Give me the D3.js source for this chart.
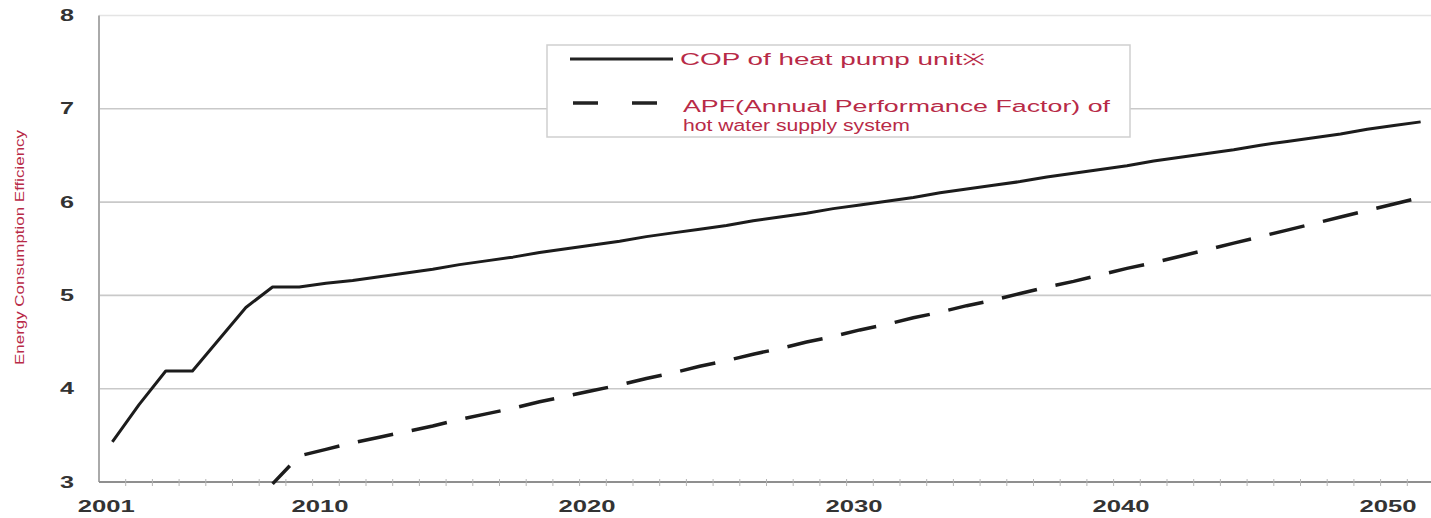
<!DOCTYPE html>
<html><head><meta charset="utf-8">
<script src="https://cdn.jsdelivr.net/npm/d3@7"></script>
<style>body{margin:0;background:#fff;} svg{display:block;}</style>
</head><body><svg id="c" width="1431" height="518"></svg>
<script>
// Category axis labels (Excel-style category column, blanks unlabeled)
const xLabels = ["2001","","","","","","","","2010","",
                 "","","","","","","","","2020","",
                 "","","","","","","","","2030","",
                 "","","","","","","","","2040","",
                 "","","","","","","","","2050",""];
// COP of heat pump unit
const copValues = [3.43,3.83,4.19,4.19,4.53,4.87,5.09,5.09,5.13,5.16,
                   5.20,5.24,5.28,5.33,5.37,5.41,5.46,5.50,5.54,5.58,
                   5.63,5.67,5.71,5.75,5.80,5.84,5.88,5.93,5.97,6.01,
                   6.05,6.10,6.14,6.18,6.22,6.27,6.31,6.35,6.39,6.44,
                   6.48,6.52,6.56,6.61,6.65,6.69,6.73,6.78,6.82,6.86];
// APF of hot water supply system
const apfValues = [null,null,null,null,null,null,2.98,3.28,3.35,3.42,
                   3.48,3.54,3.60,3.67,3.73,3.79,3.86,3.92,3.98,4.04,
                   4.11,4.17,4.24,4.30,4.37,4.43,4.50,4.56,4.63,4.69,
                   4.76,4.82,4.89,4.95,5.02,5.09,5.15,5.22,5.29,5.35,
                   5.42,5.49,5.56,5.63,5.70,5.77,5.84,5.91,5.98,6.05];
const yTicks = [3,4,5,6,7,8];
const yTitle = "Energy Consumption Efficiency";
const copLabel = "COP of heat pump unit※";
const apfLabelLines = ["APF(Annual Performance Factor) of", "hot water supply system"];

const svg = d3.select("#c");
const red = "#b82a47";
const n = xLabels.length;
const x = d3.scaleBand().domain(d3.range(n)).range([99, 1434]).paddingInner(0).paddingOuter(0);
const cx = i => x(i) + x.bandwidth() / 2;
const y = d3.scaleLinear().domain([3, 8]).range([482, 15.5]);

// gridlines
svg.append("g").selectAll("line").data(yTicks.filter(t => t > 3)).join("line")
  .attr("x1", 99).attr("x2", 1431)
  .attr("y1", d => y(d)).attr("y2", d => y(d))
  .attr("stroke", d => d === 8 ? "#e4e4e4" : "#c9c9c9").attr("stroke-width", 1.6);

// left axis line
svg.append("line").attr("x1", 99).attr("x2", 99).attr("y1", y(8)).attr("y2", y(3))
  .attr("stroke", "#aaa").attr("stroke-width", 2);
// bottom axis line
svg.append("line").attr("x1", 99).attr("x2", 1431).attr("y1", y(3)).attr("y2", y(3))
  .attr("stroke", "#8f8f8f").attr("stroke-width", 2);
// category boundary tick marks
svg.append("g").selectAll("line").data(d3.range(1, n)).join("line")
  .attr("x1", d => x(d)).attr("x2", d => x(d))
  .attr("y1", y(3) - 3).attr("y2", y(3) + 4)
  .attr("stroke", "#b5b5b5").attr("stroke-width", 1);

// y axis labels
const yAxis = svg.append("g").attr("transform", "translate(74,0)")
  .call(d3.axisLeft(y).tickValues(yTicks).tickSize(0).tickPadding(0).tickFormat(d3.format("d")));
yAxis.select(".domain").remove();
yAxis.selectAll("text")
  .attr("font-family", "Liberation Sans, Arial, sans-serif").attr("font-weight", "bold")
  .attr("font-size", 16).attr("fill", "#333")
  .attr("textLength", 14).attr("lengthAdjust", "spacingAndGlyphs");

// x axis labels
const xAxis = svg.append("g").attr("transform", `translate(-6,${y(3)})`)
  .call(d3.axisBottom(x).tickValues(d3.range(n).filter(i => xLabels[i] !== ""))
    .tickSize(0).tickPadding(19).tickFormat(i => xLabels[i]));
xAxis.select(".domain").remove();
xAxis.selectAll("text")
  .attr("font-family", "Liberation Sans, Arial, sans-serif").attr("font-weight", "bold")
  .attr("font-size", 16).attr("fill", "#333")
  .attr("textLength", 57).attr("lengthAdjust", "spacingAndGlyphs");

// y title
svg.append("text")
  .attr("transform", `translate(24,${(130 + 365) / 2}) rotate(-90)`)
  .attr("text-anchor", "middle")
  .attr("font-family", "Liberation Sans, Arial, sans-serif")
  .attr("font-size", 12).attr("fill", red)
  .attr("textLength", 235).attr("lengthAdjust", "spacingAndGlyphs")
  .text(yTitle);

// lines
const line = d3.line().defined(d => d != null).x((d, i) => cx(i)).y(d => y(d));
svg.append("path").datum(copValues).attr("d", line)
  .attr("fill", "none").attr("stroke", "#1c1c1c").attr("stroke-width", 3)
  .attr("stroke-linejoin", "round");
svg.append("path").datum(apfValues).attr("d", line)
  .attr("fill", "none").attr("stroke", "#1c1c1c").attr("stroke-width", 3.5)
  .attr("stroke-dasharray", "36,19").attr("stroke-dashoffset", 11);

// legend
const lg = svg.append("g");
lg.append("rect").attr("x", 547).attr("y", 45).attr("width", 583).attr("height", 92)
  .attr("fill", "#fff").attr("stroke", "#cfcfcf").attr("stroke-width", 1.5);
lg.append("line").attr("x1", 570).attr("x2", 673).attr("y1", 59).attr("y2", 59)
  .attr("stroke", "#222").attr("stroke-width", 3);
lg.append("line").attr("x1", 573).attr("x2", 657).attr("y1", 103).attr("y2", 103)
  .attr("stroke", "#222").attr("stroke-width", 3.5).attr("stroke-dasharray", "25,34");
const tStyle = s => s.attr("font-family", "Liberation Sans, Arial, sans-serif")
  .attr("font-size", 16).attr("fill", red).attr("lengthAdjust", "spacingAndGlyphs");
lg.append("text").attr("x", 680).attr("y", 65).attr("textLength", 305).call(tStyle).text(copLabel);
lg.append("text").attr("x", 683).attr("y", 112).attr("textLength", 427).call(tStyle).text(apfLabelLines[0]);
lg.append("text").attr("x", 683).attr("y", 131).attr("textLength", 227).call(tStyle).text(apfLabelLines[1]);
</script>
</body></html>
